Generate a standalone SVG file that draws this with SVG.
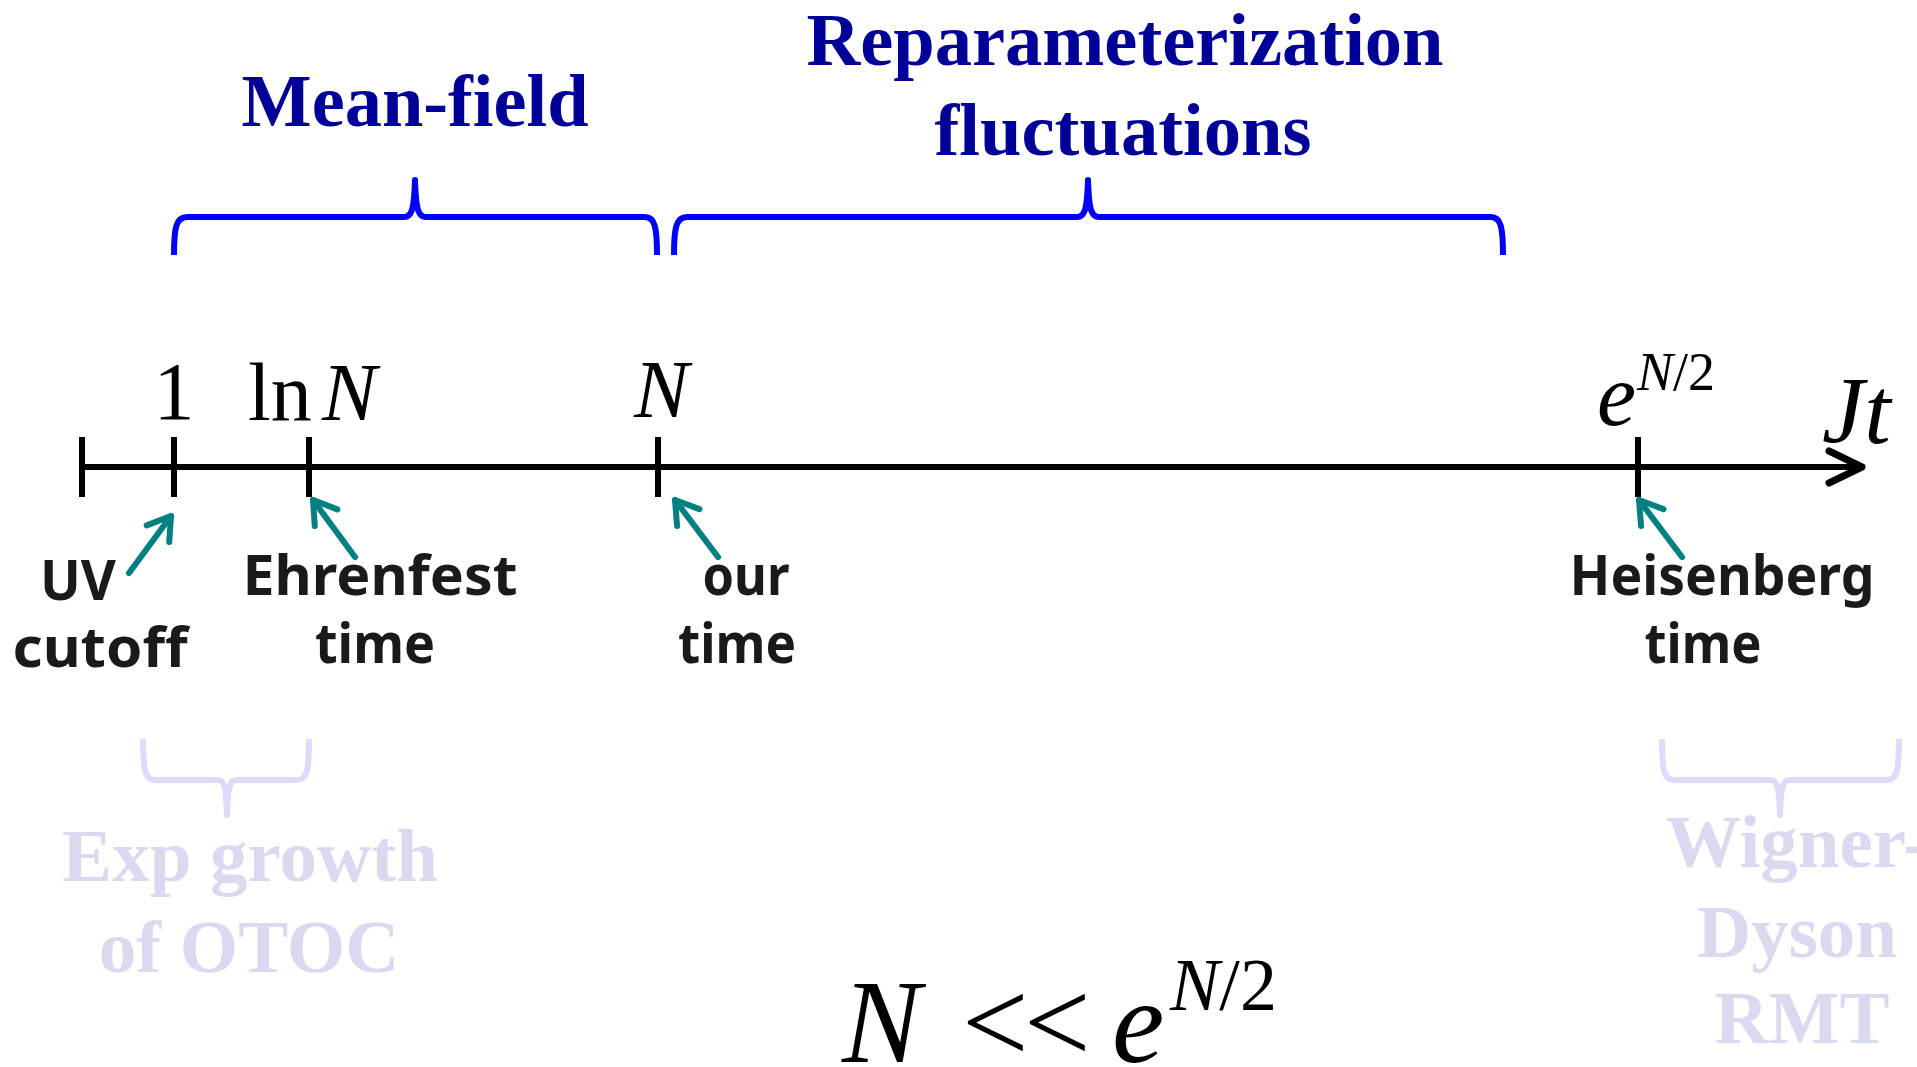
<svg xmlns="http://www.w3.org/2000/svg" width="1917" height="1067" viewBox="0 0 1917 1067">
<defs>
<style>
.title{font-family:"Liberation Serif","Times New Roman",serif;font-weight:bold;font-size:75px;fill:#000099;text-anchor:middle}
.faint{font-family:"Liberation Serif","Times New Roman",serif;font-weight:bold;font-size:75px;fill:#D9D9F0;text-anchor:middle}
.math{font-family:"Liberation Serif","Times New Roman",serif;fill:#000}
.it{font-style:italic}
.hand{font-family:"Noto Sans","DejaVu Sans",sans-serif;font-weight:bold;font-size:56px;fill:#1a1a1a;text-anchor:middle}
.brace{fill:none;stroke:#0000FF;stroke-width:6;stroke-linejoin:round}
.fbrace{fill:none;stroke:#DCDCFA;stroke-width:6;stroke-linejoin:round}
.axis{stroke:#000;stroke-width:6;fill:none}
.tick{stroke:#000;stroke-width:6}
.ptr{stroke:#008080;stroke-width:6;stroke-linecap:round;fill:none;marker-end:url(#chev)}
</style>
<marker id="chev" markerUnits="userSpaceOnUse" viewBox="-30 -20 34 40" refX="0" refY="0" markerWidth="34" markerHeight="40" orient="auto">
<path d="M-22,-14 L0,0 L-22,14" fill="none" stroke="#008080" stroke-width="6" stroke-linecap="round" stroke-linejoin="round"/>
</marker>
</defs>

<g id="titles">
<text id="mean-field" class="title" x="415" y="126" textLength="347" lengthAdjust="spacingAndGlyphs">Mean-field</text>
<g id="reparam">
<text class="title" x="1125" y="65" textLength="637" lengthAdjust="spacingAndGlyphs">Reparameterization</text>
<text class="title" x="1123" y="155" textLength="377" lengthAdjust="spacingAndGlyphs">fluctuations</text>
</g>
</g>

<g id="braces">
<path class="brace" d="M174,255 C174,228 176,217 187,217 L404,217 C411,217 414,212 415,180 C416,212 419,217 426,217 L645,217 C655,217 657,228 657,255"/>
<path class="brace" d="M674,255 C674,228 676,217 687,217 L1077,217 C1084,217 1087,212 1088,180 C1089,212 1092,217 1099,217 L1491,217 C1501,217 1503,228 1503,255"/>
<path class="fbrace" d="M143,739 C143,770 145,780 155,780 L217,780 C224,780 226,785 227,815 C228,785 230,780 237,780 L297,780 C307,780 309,770 309,739"/>
<path class="fbrace" d="M1662,739 C1662,770 1664,780 1674,780 L1770,780 C1777,780 1779,785 1780,815 C1781,785 1783,780 1790,780 L1887,780 C1897,780 1899,770 1899,739"/>
</g>

<g id="axis">
<line class="axis" x1="82" y1="467" x2="1858" y2="467"/>
<path d="M1829,451 L1862,467 L1829,483" fill="none" stroke="#000" stroke-width="7" stroke-linecap="round" stroke-linejoin="round"/>
<line class="tick" x1="82" y1="437" x2="82" y2="497"/>
<line class="tick" x1="174" y1="437" x2="174" y2="497"/>
<line class="tick" x1="309" y1="437" x2="309" y2="497"/>
<line class="tick" x1="658" y1="437" x2="658" y2="497"/>
<line class="tick" x1="1638" y1="437" x2="1638" y2="497"/>
</g>

<g id="axis-labels" class="math">
<text x="174" y="419" font-size="82" text-anchor="middle">1</text>
<text x="248" y="420" font-size="82">ln</text>
<text class="it" x="322" y="420" font-size="82">N</text>
<text class="it" x="634" y="417" font-size="82">N</text>
<text class="it" x="1597" y="425" font-size="88">e</text>
<text x="1637" y="390" font-size="54"><tspan class="it">N</tspan>/2</text>
<text class="it" x="1822" y="443" font-size="95">Jt</text>
</g>

<g id="connectors">
<line class="ptr" x1="129" y1="573" x2="171" y2="516"/>
<line class="ptr" x1="355" y1="557" x2="313" y2="500"/>
<line class="ptr" x1="718" y1="557" x2="675" y2="500"/>
<line class="ptr" x1="1682" y1="557" x2="1639" y2="500"/>
</g>

<g id="uv-cutoff">
<text class="hand" x="78" y="600" textLength="76" lengthAdjust="spacingAndGlyphs">UV</text>
<text class="hand" x="100" y="667" textLength="175" lengthAdjust="spacingAndGlyphs">cutoff</text>
</g>
<g id="ehrenfest">
<text class="hand" x="380" y="595" textLength="275" lengthAdjust="spacingAndGlyphs">Ehrenfest</text>
<text class="hand" x="375" y="663" textLength="120" lengthAdjust="spacingAndGlyphs">time</text>
</g>
<g id="our-time">
<text class="hand" x="746" y="595" textLength="87" lengthAdjust="spacingAndGlyphs">our</text>
<text class="hand" x="737" y="663" textLength="118" lengthAdjust="spacingAndGlyphs">time</text>
</g>
<g id="heisenberg">
<text class="hand" x="1722" y="595" textLength="305" lengthAdjust="spacingAndGlyphs">Heisenberg</text>
<text class="hand" x="1703" y="663" textLength="117" lengthAdjust="spacingAndGlyphs">time</text>
</g>

<g id="exp-growth">
<text class="faint" x="250" y="881">Exp growth</text>
<text class="faint" x="249" y="972">of OTOC</text>
</g>
<g id="wigner-dyson">
<text class="faint" x="1797" y="867">Wigner-</text>
<text class="faint" x="1797" y="957">Dyson</text>
<text class="faint" x="1802" y="1043">RMT</text>
</g>

<g id="formula" class="math">
<text class="it" x="842" y="1062" font-size="118">N</text>
<text x="962" y="1062" font-size="118">&lt;</text>
<text x="1024" y="1062" font-size="118">&lt;</text>
<text class="it" x="1112" y="1062" font-size="118">e</text>
<text x="1170" y="1010" font-size="74"><tspan class="it">N</tspan>/2</text>
</g>
</svg>
